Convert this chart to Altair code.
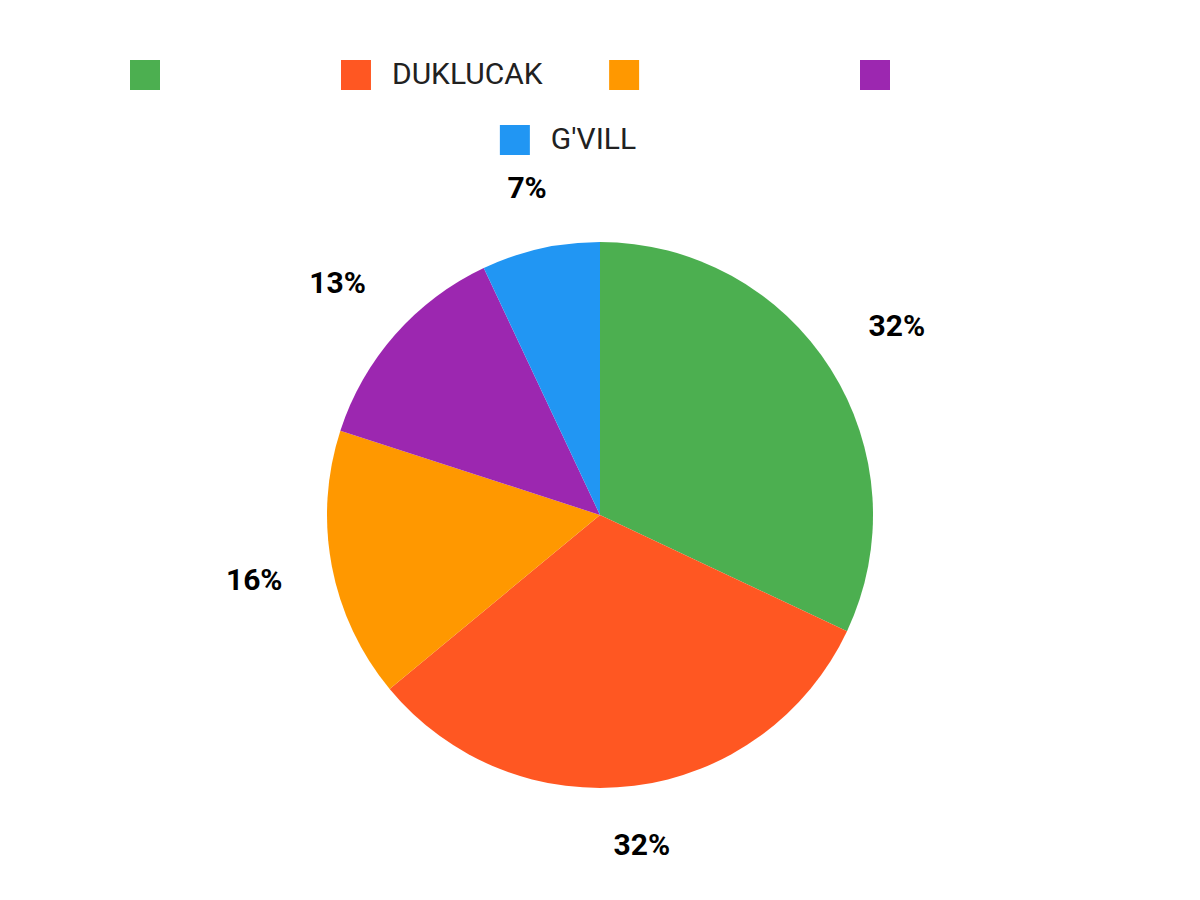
import altair as alt
import pandas as pd

# ---- data ----
slices = [0, 1, 2, 3, 4]
shares = [32, 32, 16, 13, 7]
colors = ["#4CAF50", "#FF5722", "#FF9800", "#9C27B0", "#2196F3"]
legend_labels = ["", "DUKLUCAK", "", "", "G'VILL"]
legend_row = [1, 1, 1, 1, 2]
legend_col = [0, 0.867, 1.969, 3, 1.52]

pie_df = pd.DataFrame({"slice": slices, "share": shares})
leg_df = pd.DataFrame({"slice": slices, "label": legend_labels,
                       "row": legend_row, "col": legend_col})

color = alt.Color("slice:N", scale=alt.Scale(domain=slices, range=colors), legend=None)

# ---- pie ----
theta = alt.Theta("share:Q", stack=True)
order = alt.Order("slice:Q", sort="ascending")

arcs = alt.Chart(pie_df).mark_arc(outerRadius=273).encode(
    theta=theta, order=order, color=color
)

# label distance: pie edge + gap + half the label box along the radial direction
pct = alt.Chart(pie_df).transform_calculate(
    txt="datum.share + '%'"
).transform_joinaggregate(
    total="sum(share)"
).transform_window(
    cum="sum(share)", sort=[alt.SortField("slice", order="ascending")]
).transform_calculate(
    mid="2 * PI * (datum.cum - datum.share / 2) / datum.total"
).transform_calculate(
    lr="319 + abs(sin(datum.mid)) * length(datum.txt) * 10.5 + abs(cos(datum.mid)) * 11"
).mark_text(
    font="Roboto", fontSize=30, fontWeight="bold",
    color="#000000", align="center", baseline="middle"
).encode(
    theta=alt.Theta("mid:Q", scale=None, stack=False),
    radius=alt.Radius("lr:Q", scale=None),
    text="txt:N",
)

pie = alt.layer(arcs, pct).properties(width=1184, height=616)

# ---- legend ----
x = alt.X("col:Q", scale=alt.Scale(domain=[0, 3], range=[137, 867]), axis=None)
y = alt.Y("row:Q", scale=alt.Scale(domain=[1, 2], range=[67, 132]), axis=None)

squares = alt.Chart(leg_df).mark_square(size=900, opacity=1).encode(x=x, y=y, color=color)
names = alt.Chart(leg_df).mark_text(
    align="left", baseline="middle", dx=36, font="Roboto", fontSize=30, color="#212121"
).encode(x=x, y=y, text="label:N")

legend = alt.layer(squares, names).properties(width=1184, height=199)

chart = alt.vconcat(legend, pie, spacing=0, bounds="flush").properties(
    padding=0
).configure_view(stroke=None)

chart.save("out.html", embed_options={"renderer": "svg", "actions": False})
